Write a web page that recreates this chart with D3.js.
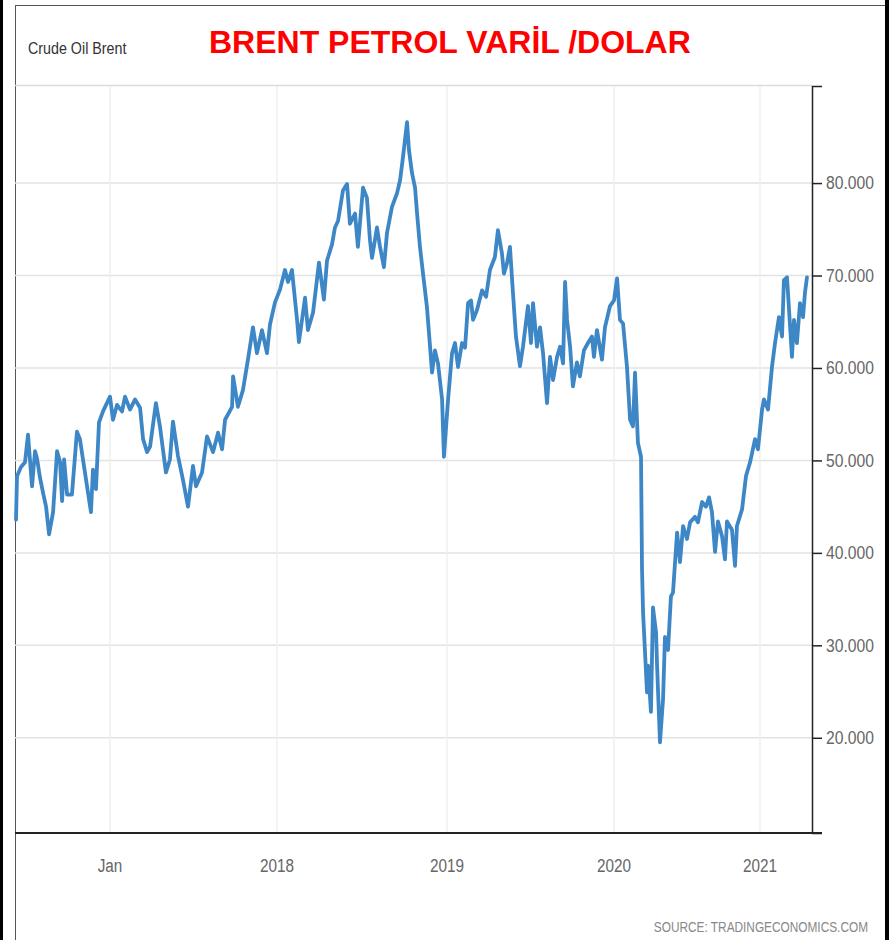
<!DOCTYPE html>
<html><head><meta charset="utf-8">
<script src="https://cdn.jsdelivr.net/npm/d3@7/dist/d3.min.js"></script>
<style>body{margin:0;background:#fff}svg{display:block}</style>
</head><body><svg id="c" width="891" height="940"></svg>
<script>
// ---- data (fractional year, price USD/barrel) ----
const years = [
2016.437,2016.443,2016.467,2016.491,2016.509,2016.533,2016.551,2016.563,2016.581,2016.599,2016.617,2016.635,2016.659,2016.683,2016.701,2016.713,2016.725,2016.743,2016.772,2016.802,2016.820,2016.850,2016.886,2016.898,2016.916,2016.934,2016.958,2017.000,
2017.018,2017.042,2017.072,2017.090,2017.120,2017.150,2017.180,2017.198,2017.222,2017.240,2017.275,2017.299,2017.335,2017.359,2017.377,2017.407,
2017.437,2017.467,2017.497,2017.515,2017.551,2017.581,2017.617,2017.647,2017.671,2017.689,2017.731,2017.737,2017.766,2017.796,2017.826,2017.856,2017.880,2017.910,2017.940,2017.958,2017.988,
2018.018,2018.047,2018.065,2018.088,2018.118,2018.129,2018.165,2018.182,2018.212,2018.247,2018.276,2018.294,2018.324,2018.341,2018.359,2018.388,2018.412,2018.429,2018.459,2018.476,2018.506,2018.529,2018.547,2018.559,2018.588,2018.606,2018.629,2018.647,2018.676,2018.706,2018.724,2018.741,2018.765,2018.776,2018.794,2018.812,2018.824,2018.841,2018.859,2018.882,2018.894,2018.912,2018.929,2018.947,2018.971,2018.982,
2019.006,2019.030,2019.048,2019.066,2019.090,2019.108,2019.126,2019.144,2019.156,2019.180,2019.210,2019.234,2019.257,2019.287,2019.305,2019.329,2019.341,2019.359,2019.377,2019.395,2019.413,2019.437,2019.455,2019.485,2019.503,2019.515,2019.539,2019.557,2019.575,2019.599,2019.617,2019.635,2019.659,2019.677,2019.695,2019.707,2019.719,2019.737,2019.754,2019.778,2019.796,2019.820,2019.844,2019.868,2019.880,2019.898,2019.928,2019.946,2019.976,
2020.000,2020.021,2020.041,2020.062,2020.089,2020.110,2020.130,2020.144,2020.164,2020.185,2020.192,2020.199,2020.226,2020.233,2020.253,2020.267,2020.288,2020.295,2020.315,2020.336,2020.349,2020.370,2020.390,2020.404,2020.432,2020.452,2020.473,2020.500,2020.521,2020.555,2020.575,2020.603,2020.630,2020.651,2020.671,2020.692,2020.712,2020.740,2020.760,2020.774,2020.808,2020.829,2020.842,2020.877,2020.904,2020.932,2020.966,2020.986,
2021.014,2021.027,2021.055,2021.082,2021.103,2021.130,2021.151,2021.164,2021.185,2021.199,2021.219,2021.233,2021.253,2021.274,2021.295,2021.308,2021.322
];
const prices = [
43.6,48.3,49.3,49.8,52.8,47.2,51.0,50.2,48.1,46.5,45.0,42.0,44.4,51.0,49.8,45.6,50.1,46.3,46.3,53.1,52.3,48.7,44.4,49.0,46.9,54.1,55.3,56.9,
54.4,56.0,55.3,56.9,55.5,56.6,55.7,52.3,50.9,51.5,56.2,53.7,48.7,50.1,54.2,50.5,
47.9,45.0,49.4,47.2,48.7,52.6,50.9,53.0,51.2,54.4,55.8,59.1,55.8,57.6,60.9,64.4,61.6,64.1,61.6,64.7,67.1,
68.5,70.6,69.3,70.6,65.2,62.8,67.6,64.1,66.0,71.4,67.4,71.6,73.4,75.2,75.9,79.2,79.9,75.6,76.7,73.1,79.5,78.4,73.8,71.9,75.2,73.1,70.9,74.6,77.4,78.9,80.3,82.8,86.6,83.6,81.1,79.5,76.7,73.1,70.2,66.6,63.8,59.5,61.9,60.5,56.6,50.4,
56.5,61.6,62.7,60.1,62.7,62.2,67.0,67.3,65.2,66.3,68.4,67.7,70.6,72.0,74.9,72.4,70.2,71.3,73.1,68.1,63.4,60.2,62.3,66.7,62.7,67.0,62.3,64.4,61.6,56.2,61.2,58.7,61.2,62.3,60.5,69.3,65.2,62.3,58.0,60.6,59.1,61.9,62.7,63.4,61.2,64.1,60.9,64.4,66.7,
67.3,69.7,65.2,64.8,60.1,54.4,53.7,59.5,51.9,50.4,38.2,33.6,24.9,27.8,22.8,34.1,31.4,27.8,19.5,24.2,30.9,29.5,35.3,35.7,42.2,39.0,42.9,41.5,43.3,43.9,43.3,45.5,45.0,46.0,44.4,40.1,43.4,41.8,39.3,43.4,42.5,38.6,42.9,44.7,48.3,49.8,52.3,51.2,
55.5,56.6,55.5,60.1,62.7,65.5,63.4,69.5,69.8,66.3,61.2,65.2,62.7,67.0,65.5,68.1,69.8
];
const xTickValues = [2017, 2018, 2019, 2020, 2021];
const xTickLabels = ["Jan", "2018", "2019", "2020", "2021"];
const yTickValues = [20, 30, 40, 50, 60, 70, 80];

// ---- layout ----
const svg = d3.select("#c");
const W = 891, H = 940;
const plotL = 15, plotR = 812, plotT = 86, plotB = 833;
const font = "'Liberation Sans',Arial,sans-serif";

// condense text horizontally (source uses a narrow face)
function condense(sel, f) {
  sel.each(function () {
    const len = this.getComputedTextLength();
    d3.select(this).attr("textLength", len * f).attr("lengthAdjust", "spacingAndGlyphs");
  });
}

// time axis is piecewise (year spacing in the source is uneven)
const xBreaks = [2016.431, 2017, 2018, 2019, 2020, 2021, 2021.329];
const xBreakPx = [plotL, 110, 277, 447, 614, 760, 808];
const x = d3.scaleLinear().domain(xBreaks).range(xBreakPx);
const y = d3.scaleLinear().domain([9.7, 90.5]).range([plotB, plotT]);

// frame
svg.append("line").attr("x1", 15.5).attr("x2", 15.5).attr("y1", 5).attr("y2", H)
  .attr("stroke", "#555").attr("stroke-width", 1);
svg.append("line").attr("x1", 15).attr("x2", 886).attr("y1", 5.5).attr("y2", 5.5)
  .attr("stroke", "#555").attr("stroke-width", 1);
svg.append("rect").attr("x", 0).attr("y", 0).attr("width", 3).attr("height", H).attr("fill", "#000");
svg.append("rect").attr("x", 885).attr("y", 0).attr("width", 4).attr("height", H).attr("fill", "#000");

// header separator
svg.append("line").attr("x1", plotL).attr("x2", plotR).attr("y1", 85.5).attr("y2", 85.5)
  .attr("stroke", "#dcdcdc").attr("stroke-width", 1.5);

// gridlines
svg.append("g").selectAll("line").data(yTickValues).join("line")
  .attr("x1", plotL).attr("x2", plotR)
  .attr("y1", d => y(d)).attr("y2", d => y(d))
  .attr("stroke", "#e2e2e2").attr("stroke-width", 1.5);
svg.append("g").selectAll("line").data(xTickValues).join("line")
  .attr("x1", d => x(d)).attr("x2", d => x(d))
  .attr("y1", plotT).attr("y2", plotB)
  .attr("stroke", "#efefef").attr("stroke-width", 1.5);

// price line
const pts = years.map((t, i) => [t, prices[i]]);
svg.append("path").datum(pts)
  .attr("d", d3.line().x(d => x(d[0])).y(d => y(d[1])))
  .attr("fill", "none").attr("stroke", "#3d87c7").attr("stroke-width", 3.8)
  .attr("stroke-linejoin", "round").attr("stroke-linecap", "round");

// right axis
const yAxis = svg.append("g").attr("transform", `translate(${plotR},0)`)
  .call(d3.axisRight(y).tickValues(yTickValues).tickFormat(d3.format(".3f"))
    .tickSize(10).tickSizeOuter(10).tickPadding(4));
yAxis.select(".domain").attr("stroke", "#222").attr("stroke-width", 1.5);
yAxis.selectAll(".tick line").attr("stroke", "#222").attr("stroke-width", 1.5);
yAxis.selectAll("text").attr("fill", "#666").style("font-family", font).style("font-size", "18px");
condense(yAxis.selectAll("text"), 0.87);

// bottom axis line
svg.append("line").attr("x1", plotL).attr("x2", plotR + 10).attr("y1", plotB).attr("y2", plotB)
  .attr("stroke", "#222").attr("stroke-width", 2);

// x labels
const xl = svg.append("g").selectAll("text").data(xTickValues).join("text")
  .attr("x", d => x(d)).attr("y", 872)
  .attr("text-anchor", "middle").attr("fill", "#666")
  .style("font-family", font).style("font-size", "18px")
  .text((d, i) => xTickLabels[i]);
condense(xl, 0.85);

// header texts
const sub = svg.append("text").attr("x", 28).attr("y", 54).attr("fill", "#333")
  .style("font-family", font).style("font-size", "17px").text("Crude Oil Brent");
condense(sub, 0.84);
svg.append("text").attr("x", 209).attr("y", 53).attr("fill", "#ff0000")
  .style("font-family", font).style("font-weight", "bold").style("font-size", "32px")
  .text("BRENT PETROL VARİL /DOLAR");

// source (horizontally scaled via transform so its box stays inside the page)
svg.append("text").attr("transform", "translate(868,932) scale(0.79,1)")
  .attr("text-anchor", "end").attr("fill", "#888")
  .style("font-family", font).style("font-size", "15px").text("SOURCE: TRADINGECONOMICS.COM");
</script>
</body></html>
